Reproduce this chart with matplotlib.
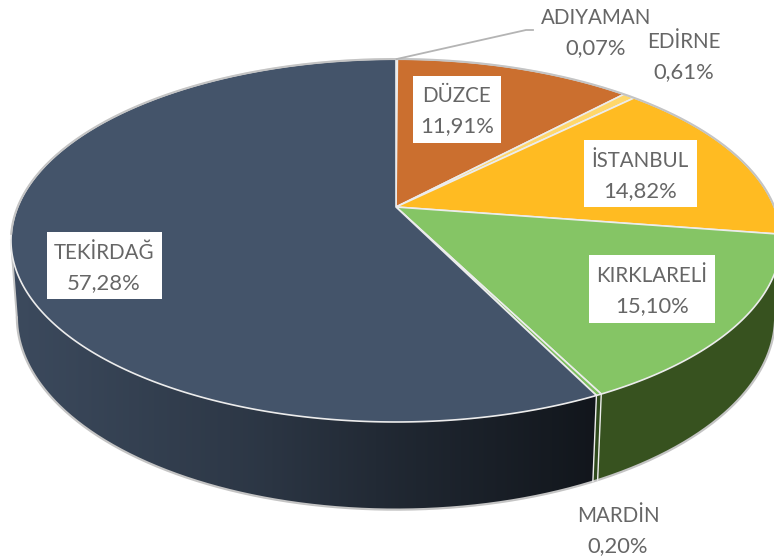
import numpy as np
import matplotlib
matplotlib.use('Agg')
import matplotlib.pyplot as plt
from matplotlib.patches import Rectangle, Polygon

# clockwise from the top of the pie
names = ['ADIYAMAN', 'DÜZCE', 'EDİRNE', 'İSTANBUL', 'KIRKLARELİ', 'MARDİN', 'TEKİRDAĞ']
values = [0.07, 11.91, 0.61, 14.82, 15.10, 0.20, 57.28]

top_colors = ['#9a9a9a', '#cb6f2f', '#ffd76a', '#ffbb22', '#85c565', '#7fbf60', '#44546a']
wall_colors = ['#555555', '#6b3a18', '#8a7030', '#8a6512', '#37521f', '#2f4a1c', '#44546a']

# label layout: centre x, first baseline y, box (x0, y0, x1, y1) or None
label_pos = {
    'ADIYAMAN': (596, 24, None),
    'DÜZCE': (457, 102, (413, 76, 501, 143)),
    'EDİRNE': (684, 48, None),
    'İSTANBUL': (640, 167, (584, 140, 697, 207)),
    'KIRKLARELİ': (652, 282, (589, 255, 715, 323)),
    'MARDİN': (618, 522, None),
    'TEKİRDAĞ': (104, 259, (47, 232, 162, 299)),
}

text_gray = '#666666'
line_light = '#ececec'
rim_gray = '#c4c4c4'

# perspective of the disc
cx, cy = 396, 207
R, S, k = 378.4, 175.3, 0.1846
drop, shrink = 76, 0.015


def proj(theta, low=False):
    u, v = np.sin(theta), np.cos(theta)
    w = 1 + k * v + (shrink if low else 0)
    return cx + R * u / w, cy + (-S * v + (drop if low else 0)) / w


fig = plt.figure(figsize=(7.74, 5.58), dpi=100)
ax = fig.add_axes([0, 0, 1, 1])

total = sum(values)
edges = np.concatenate([[0], np.cumsum(values)]) / total * 2 * np.pi
# wall is only seen in front of the two tangent points
vis_limit = np.arccos(-k)

# side wall first, the top face covers whatever is behind it
for i, name in enumerate(names):
    lo = max(edges[i], vis_limit)
    hi = min(edges[i + 1], 2 * np.pi - vis_limit)
    if hi <= lo:
        continue
    th = np.linspace(lo, hi, 200)
    xt, yt = proj(th)
    xb, yb = proj(th, True)
    pts = list(zip(xt, yt)) + list(zip(xb[::-1], yb[::-1]))
    if name == 'TEKİRDAĞ':
        wall = Polygon(pts, closed=True, facecolor='none', edgecolor='none', zorder=2)
        ax.add_patch(wall)
        xgrid = np.linspace(0, 620, 311)
        shade = np.interp(xgrid, [15, 250, 400, 590], [0.88, 0.66, 0.47, 0.27])
        base = np.array(matplotlib.colors.to_rgb(wall_colors[i]))
        img = ax.imshow((shade[:, None] * base)[None, :, :], extent=(0, 620, 558, 0),
                        aspect='auto', zorder=2, interpolation='bilinear')
        img.set_clip_path(wall)
    else:
        ax.add_patch(Polygon(pts, closed=True, facecolor=wall_colors[i], edgecolor='none', zorder=2))

# outer silhouette of the bottom rim and the two side edges
th = np.linspace(vis_limit, 2 * np.pi - vis_limit, 500)
ax.plot(*proj(th, True), color=rim_gray, lw=1.6, zorder=3)
for t in (vis_limit, 2 * np.pi - vis_limit):
    xa, ya = proj(t)
    xb, yb = proj(t, True)
    ax.plot([xa, xb], [ya, yb], color=rim_gray, lw=1.4, zorder=3)

# top face
for i in range(len(names)):
    n = max(int(values[i] * 6), 2)
    th = np.linspace(edges[i], edges[i + 1], n + 1)
    xs, ys = proj(th)
    pts = [(cx, cy)] + list(zip(xs, ys))
    ax.add_patch(Polygon(pts, closed=True, facecolor=top_colors[i], edgecolor=line_light, lw=1.2, zorder=4, joinstyle='round'))

# grey back rim, and the wall edges of the visible slices
th = np.linspace(-1.72, 1.72, 300)
ax.plot(*proj(th), color=rim_gray, lw=1.5, zorder=5)
for e in edges:
    if np.cos(e) < -k:
        xa, ya = proj(e)
        xb, yb = proj(e, True)
        ax.plot([xa, xb], [ya, yb], color=line_light, lw=1.0, zorder=3)

# leader line for the smallest slice
xa, ya = proj(edges[1] / 2)
ax.plot([xa, 526, 533], [ya, 30, 30], color='#b4b4b4', lw=1.3, zorder=5)

for name, val in zip(names, values):
    x, y, box = label_pos[name]
    if box:
        ax.add_patch(Rectangle((box[0], box[1]), box[2] - box[0], box[3] - box[1],
                               facecolor='white', edgecolor='none', zorder=6))
    pct = f'{val:.2f}%'.replace('.', ',')
    ax.text(x, y, name, ha='center', va='baseline', color=text_gray, fontsize=14.8, family='Lato', zorder=7)
    ax.text(x, y + 30, pct, ha='center', va='baseline', color=text_gray, fontsize=15.8, family='Lato', zorder=7)

ax.set_xlim(0, 774)
ax.set_ylim(558, 0)
ax.axis('off')

fig.savefig('out.png', dpi=100, facecolor='white')
